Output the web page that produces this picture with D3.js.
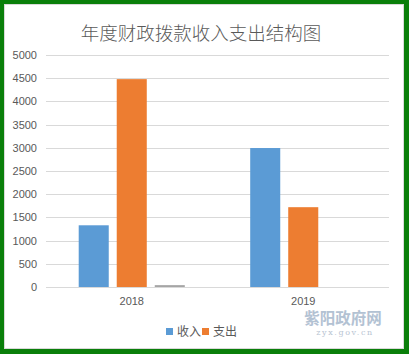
<!DOCTYPE html>
<html>
<head>
<meta charset="utf-8">
<script src="https://cdn.jsdelivr.net/npm/d3@7"></script>
<style>
  body { margin: 0; padding: 0; background: #fff; }
  svg { display: block; }
  text { font-family: "Liberation Sans", Arial, sans-serif; }
  .cjk { font-family: "Noto Sans CJK SC", "Noto Sans", sans-serif; }
</style>
</head>
<body>
<svg id="chart"></svg>
<script>
// data
const years = ['2018', '2019'];
const seriesNames = ['收入', '支出', ''];
const income = [1330, 2995];
const expense = [4480, 1720];
const other = [40, 0];
const yTicks = [0, 500, 1000, 1500, 2000, 2500, 3000, 3500, 4000, 4500, 5000];
const colors = ['#5b9bd5', '#ed7d31', '#a5a5a5'];

const width = 409, height = 354;
const margin = { top: 55, right: 20, bottom: 67, left: 46 };

const svg = d3.select('#chart')
    .attr('width', width)
    .attr('height', height);

// green frame
svg.append('rect')
    .attr('width', width).attr('height', height)
    .attr('fill', '#0a7f0a');
svg.append('rect')
    .attr('x', 4.5).attr('y', 4.5)
    .attr('width', 399).attr('height', 344)
    .attr('fill', '#fff')
    .attr('stroke', '#d9d9d9');

const innerW = width - margin.left - margin.right;
const innerH = height - margin.top - margin.bottom;

const chart = svg.append('g')
    .attr('transform', `translate(${margin.left}, ${margin.top})`);

const yscale = d3.scaleLinear()
    .domain([0, 5000])
    .range([innerH, 0]);

const x0 = d3.scaleBand()
    .domain(years)
    .range([0, innerW]);

const x1 = d3.scaleBand()
    .domain(d3.range(seriesNames.length))
    .range([0, x0.bandwidth()])
    .paddingInner(0.21)
    .paddingOuter(0.86);

// grid
chart.append('g')
    .selectAll('line')
    .data(yTicks)
    .join('line')
    .attr('x1', 0).attr('x2', innerW)
    .attr('y1', d => Math.round(yscale(d)) + 0.5)
    .attr('y2', d => Math.round(yscale(d)) + 0.5)
    .attr('stroke', '#d9d9d9');

// y axis labels
const yaxis = d3.axisLeft(yscale)
    .tickValues(yTicks)
    .tickFormat(d3.format('d'))
    .tickSize(0)
    .tickPadding(9);
chart.append('g')
    .call(yaxis)
    .call(g => g.select('.domain').remove())
    .selectAll('text')
    .attr('fill', '#595959')
    .style('font-size', '11px')
    .style('font-family', '"Liberation Sans", Arial, sans-serif');

// bars
const table = years.map((y, i) => ({
    year: y,
    values: [income[i], expense[i], other[i]]
}));

chart.selectAll('.group')
    .data(table)
    .join('g')
    .attr('class', 'group')
    .attr('transform', d => `translate(${x0(d.year)}, 0)`)
    .selectAll('rect')
    .data(d => d.values.map((v, k) => ({ k, v })))
    .join('rect')
    .attr('x', d => x1(d.k))
    .attr('y', d => yscale(d.v))
    .attr('width', x1.bandwidth())
    .attr('height', d => innerH - yscale(d.v))
    .attr('fill', d => colors[d.k]);

// x axis labels
const xaxis = d3.axisBottom(x0).tickSize(0).tickPadding(10);
chart.append('g')
    .attr('transform', `translate(0, ${innerH})`)
    .call(xaxis)
    .call(g => g.select('.domain').remove())
    .selectAll('text')
    .attr('fill', '#595959')
    .style('font-size', '11px')
    .style('font-family', '"Liberation Sans", Arial, sans-serif');

// title
svg.append('text')
    .attr('class', 'cjk')
    .attr('x', 201)
    .attr('y', 40)
    .attr('text-anchor', 'middle')
    .attr('fill', '#595959')
    .style('font-size', '18.5px')
    .style('font-weight', 300)
    .text('年度财政拨款收入支出结构图');

// legend (two named series)
const legendItems = [
    { name: seriesNames[0], color: colors[0], x: 166 },
    { name: seriesNames[1], color: colors[1], x: 202 }
];
const legend = svg.append('g');
legend.selectAll('rect')
    .data(legendItems)
    .join('rect')
    .attr('x', d => d.x)
    .attr('y', 328)
    .attr('width', 7).attr('height', 7)
    .attr('fill', d => d.color);
legend.selectAll('text')
    .data(legendItems)
    .join('text')
    .attr('class', 'cjk')
    .attr('x', d => d.x + 11)
    .attr('y', 336)
    .attr('fill', '#595959')
    .style('font-size', '12px')
    .text(d => d.name);

// watermark
svg.append('text')
    .attr('class', 'cjk')
    .attr('x', 343)
    .attr('y', 324)
    .attr('text-anchor', 'middle')
    .attr('fill', '#b3c2d3')
    .style('font-size', '15.5px')
    .style('font-weight', 700)
    .text('紫阳政府网');
svg.append('text')
    .attr('x', 345)
    .attr('y', 335)
    .attr('text-anchor', 'middle')
    .attr('fill', '#b8c4d2')
    .style('font-family', '"DejaVu Serif", serif')
    .style('font-size', '8px')
    .style('letter-spacing', '1.6px')
    .text('zyx.gov.cn');
</script>
</body>
</html>
